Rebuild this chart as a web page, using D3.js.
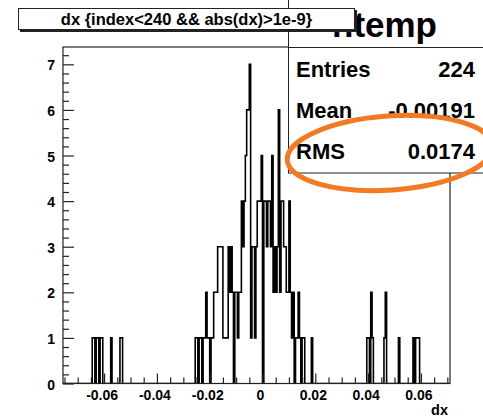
<!DOCTYPE html>
<html><head><meta charset="utf-8">
<script src="https://cdn.jsdelivr.net/npm/d3@7"></script>
<style>
html,body{margin:0;padding:0;background:#fff;}
svg{display:block;}
text{font-family:"Liberation Sans",Arial,Helvetica,sans-serif;font-weight:bold;fill:#000;}
</style></head><body>
<svg id="c" width="483" height="418"></svg>
<script>
// ---------------- data ----------------
const binWidth = 0.0005;
const binCenters = [
  -0.06425,-0.06375,-0.06275,-0.06225,-0.06125,-0.06075,-0.05725,-0.05375,-0.05325,
  -0.02525,-0.02475,-0.02375,-0.02325,-0.02225,-0.02175,-0.02125,-0.02075,-0.02025,
  -0.01925,-0.01875,-0.01825,-0.01775,-0.01725,-0.01675,-0.01625,-0.01575,-0.01525,
  -0.01475,-0.01425,-0.01375,-0.01325,-0.01275,-0.01225,-0.01175,-0.01125,
  -0.01025,-0.00975,-0.00925,-0.00875,-0.00825,-0.00775,-0.00725,-0.00675,-0.00625,
  -0.00575,-0.00525,-0.00475,-0.00425,-0.00375,-0.00325,-0.00275,-0.00225,-0.00175,
  -0.00125,-0.00075,-0.00025,
  0.00075,0.00125,0.00175,0.00225,0.00275,0.00325,0.00375,0.00425,0.00475,0.00525,
  0.00575,0.00625,0.00675,0.00725,0.00775,0.00825,0.00875,0.00925,0.00975,0.01025,
  0.01075,0.01125,0.01175,0.01275,0.01325,0.01375,0.01425,0.01525,0.01575,0.01875,
  0.03975,0.04025,0.04125,0.04175,0.04625,0.04675,0.05175,0.05725,0.05825,0.05875,0.05925
];
const binCounts = [
  1,1,1,1,1,1,1,1,1,
  1,1,1,1,1,1,2,1,1,
  1,1,2,2,2,3,3,3,3,
  1,1,1,1,3,2,3,2,
  2,2,1,2,2,4,3,4,5,
  6,6,7,1,3,3,1,3,4,
  4,4,5,
  4,4,3,4,4,3,5,2,3,2,
  3,6,2,4,4,3,3,2,2,4,
  2,1,2,1,1,2,1,1,1,1,
  1,1,2,1,1,2,1,1,1,1,1
];
const xTickValues = [-0.06,-0.04,-0.02,0,0.02,0.04,0.06];
const xTickLabels = ["-0.06","-0.04","-0.02","0","0.02","0.04","0.06"];
const yTickValues = [0,1,2,3,4,5,6,7];
const yTickLabels = ["0","1","2","3","4","5","6","7"];
const histTitle = "dx {index<240 && abs(dx)>1e-9}";
const statsName = "htemp";
const statsLabels = ["Entries","Mean","RMS"];
const statsValues = ["224","-0.00191","0.0174"];
const xAxisTitle = "dx";

// ---------------- layout ----------------
const frame = {left:63, right:450, top:47, bottom:383.5};
const xDomain = [-0.07557, 0.07102];
const yDomain = [0, 7.38];

const svg = d3.select("#c");
svg.append("rect").attr("width",483).attr("height",418).attr("fill","#fff");

const x = d3.scaleLinear().domain(xDomain).range([frame.left, frame.right]);
const y = d3.scaleLinear().domain(yDomain).range([frame.bottom, frame.top]);

// full bin array
const countByIdx = new Map();
binCenters.forEach((c,i)=>countByIdx.set(Math.round(c/binWidth-0.5), binCounts[i]));
const iStart = Math.floor(xDomain[0]/binWidth), iEnd = Math.ceil(xDomain[1]/binWidth);
const pts = [];
pts.push([iStart*binWidth, 0]);
for(let i=iStart;i<iEnd;i++){
  const c = countByIdx.get(i) || 0;
  pts.push([i*binWidth, c]);
  pts.push([(i+1)*binWidth, c]);
}
pts.push([iEnd*binWidth, 0]);

svg.append("clipPath").attr("id","fr").append("rect")
  .attr("x",frame.left).attr("y",frame.top)
  .attr("width",frame.right-frame.left).attr("height",frame.bottom-frame.top);

const line = d3.line().x(d=>x(d[0])).y(d=>y(d[1]));
svg.append("path").attr("d",line(pts)).attr("fill","none")
  .attr("stroke","#000").attr("stroke-width",1.6).attr("clip-path","url(#fr)");

// frame
svg.append("rect").attr("x",frame.left).attr("y",frame.top)
  .attr("width",frame.right-frame.left).attr("height",frame.bottom-frame.top)
  .attr("fill","none").attr("stroke","#222").attr("stroke-width",1.2);

// x axis
const xMinor = d3.range(-75,72,5).map(v=>v/1000).filter(v=>Math.abs(Math.round(v*1000))%20!==0 && v>=xDomain[0] && v<=xDomain[1]);
const gxm = svg.append("g").attr("transform",`translate(0,${frame.bottom})`)
  .call(d3.axisBottom(x).tickValues(xMinor).tickSize(-6).tickFormat(""));
const gx = svg.append("g").attr("transform",`translate(0,${frame.bottom})`)
  .call(d3.axisBottom(x).tickValues(xTickValues).tickSize(-10).tickPadding(7)
    .tickFormat((d,i)=>xTickLabels[i]));
[gxm,gx].forEach(g=>{g.select(".domain").remove(); g.selectAll("line").attr("stroke","#222").attr("stroke-width",1.2);});
gx.selectAll("text").attr("font-size",14).attr("font-family",null).attr("dx",-2.5);

// y axis
const yMinor = d3.range(0,37).map(v=>v/5).filter(v=>Math.abs(v-Math.round(v))>1e-6 && v<=yDomain[1]);
const gym = svg.append("g").attr("transform",`translate(${frame.left},0)`)
  .call(d3.axisLeft(y).tickValues(yMinor).tickSize(-6).tickFormat(""));
const gy = svg.append("g").attr("transform",`translate(${frame.left},0)`)
  .call(d3.axisLeft(y).tickValues(yTickValues).tickSize(-11).tickPadding(8)
    .tickFormat((d,i)=>yTickLabels[i]));
[gym,gy].forEach(g=>{g.select(".domain").remove(); g.selectAll("line").attr("stroke","#222").attr("stroke-width",1.2);});
gy.selectAll("text").attr("font-size",14).attr("font-family",null).attr("dy","0.4em");

// axis title
svg.append("text").attr("x",448).attr("y",414.5).attr("text-anchor","end")
  .attr("font-size",14.5).text(xAxisTitle);

// stats box
svg.append("rect").attr("x",288.5).attr("y",-10).attr("width",210).attr("height",183)
  .attr("fill","#fff").attr("stroke","#222").attr("stroke-width",1);
svg.append("line").attr("x1",288.5).attr("x2",483).attr("y1",47.5).attr("y2",47.5)
  .attr("stroke","#222").attr("stroke-width",1);
svg.append("text").attr("x",332).attr("y",37).attr("font-size",35).text(statsName);
const rowY = [77,118,159];
statsLabels.forEach((t,i)=>{
  svg.append("text").attr("x",296).attr("y",rowY[i]).attr("font-size",22).text(t);
  svg.append("text").attr("x",475).attr("y",rowY[i]).attr("text-anchor","end").attr("font-size",22).text(statsValues[i]);
});

// title box
svg.append("rect").attr("x",20).attr("y",10).attr("width",337).attr("height",22).attr("fill","#222");
svg.append("rect").attr("x",18.5).attr("y",8.5).attr("width",336).attr("height",21)
  .attr("fill","#fff").attr("stroke","#222").attr("stroke-width",1);
svg.append("text").attr("x",186.5).attr("y",24.5).attr("text-anchor","middle")
  .attr("font-size",16.5).text(histTitle);

// orange highlight ellipse
svg.append("ellipse").attr("cx",0).attr("cy",0).attr("rx",103).attr("ry",37)
  .attr("transform","translate(390,153) rotate(-4)")
  .attr("fill","none").attr("stroke","#f27a22").attr("stroke-width",5);
</script>
</body></html>
